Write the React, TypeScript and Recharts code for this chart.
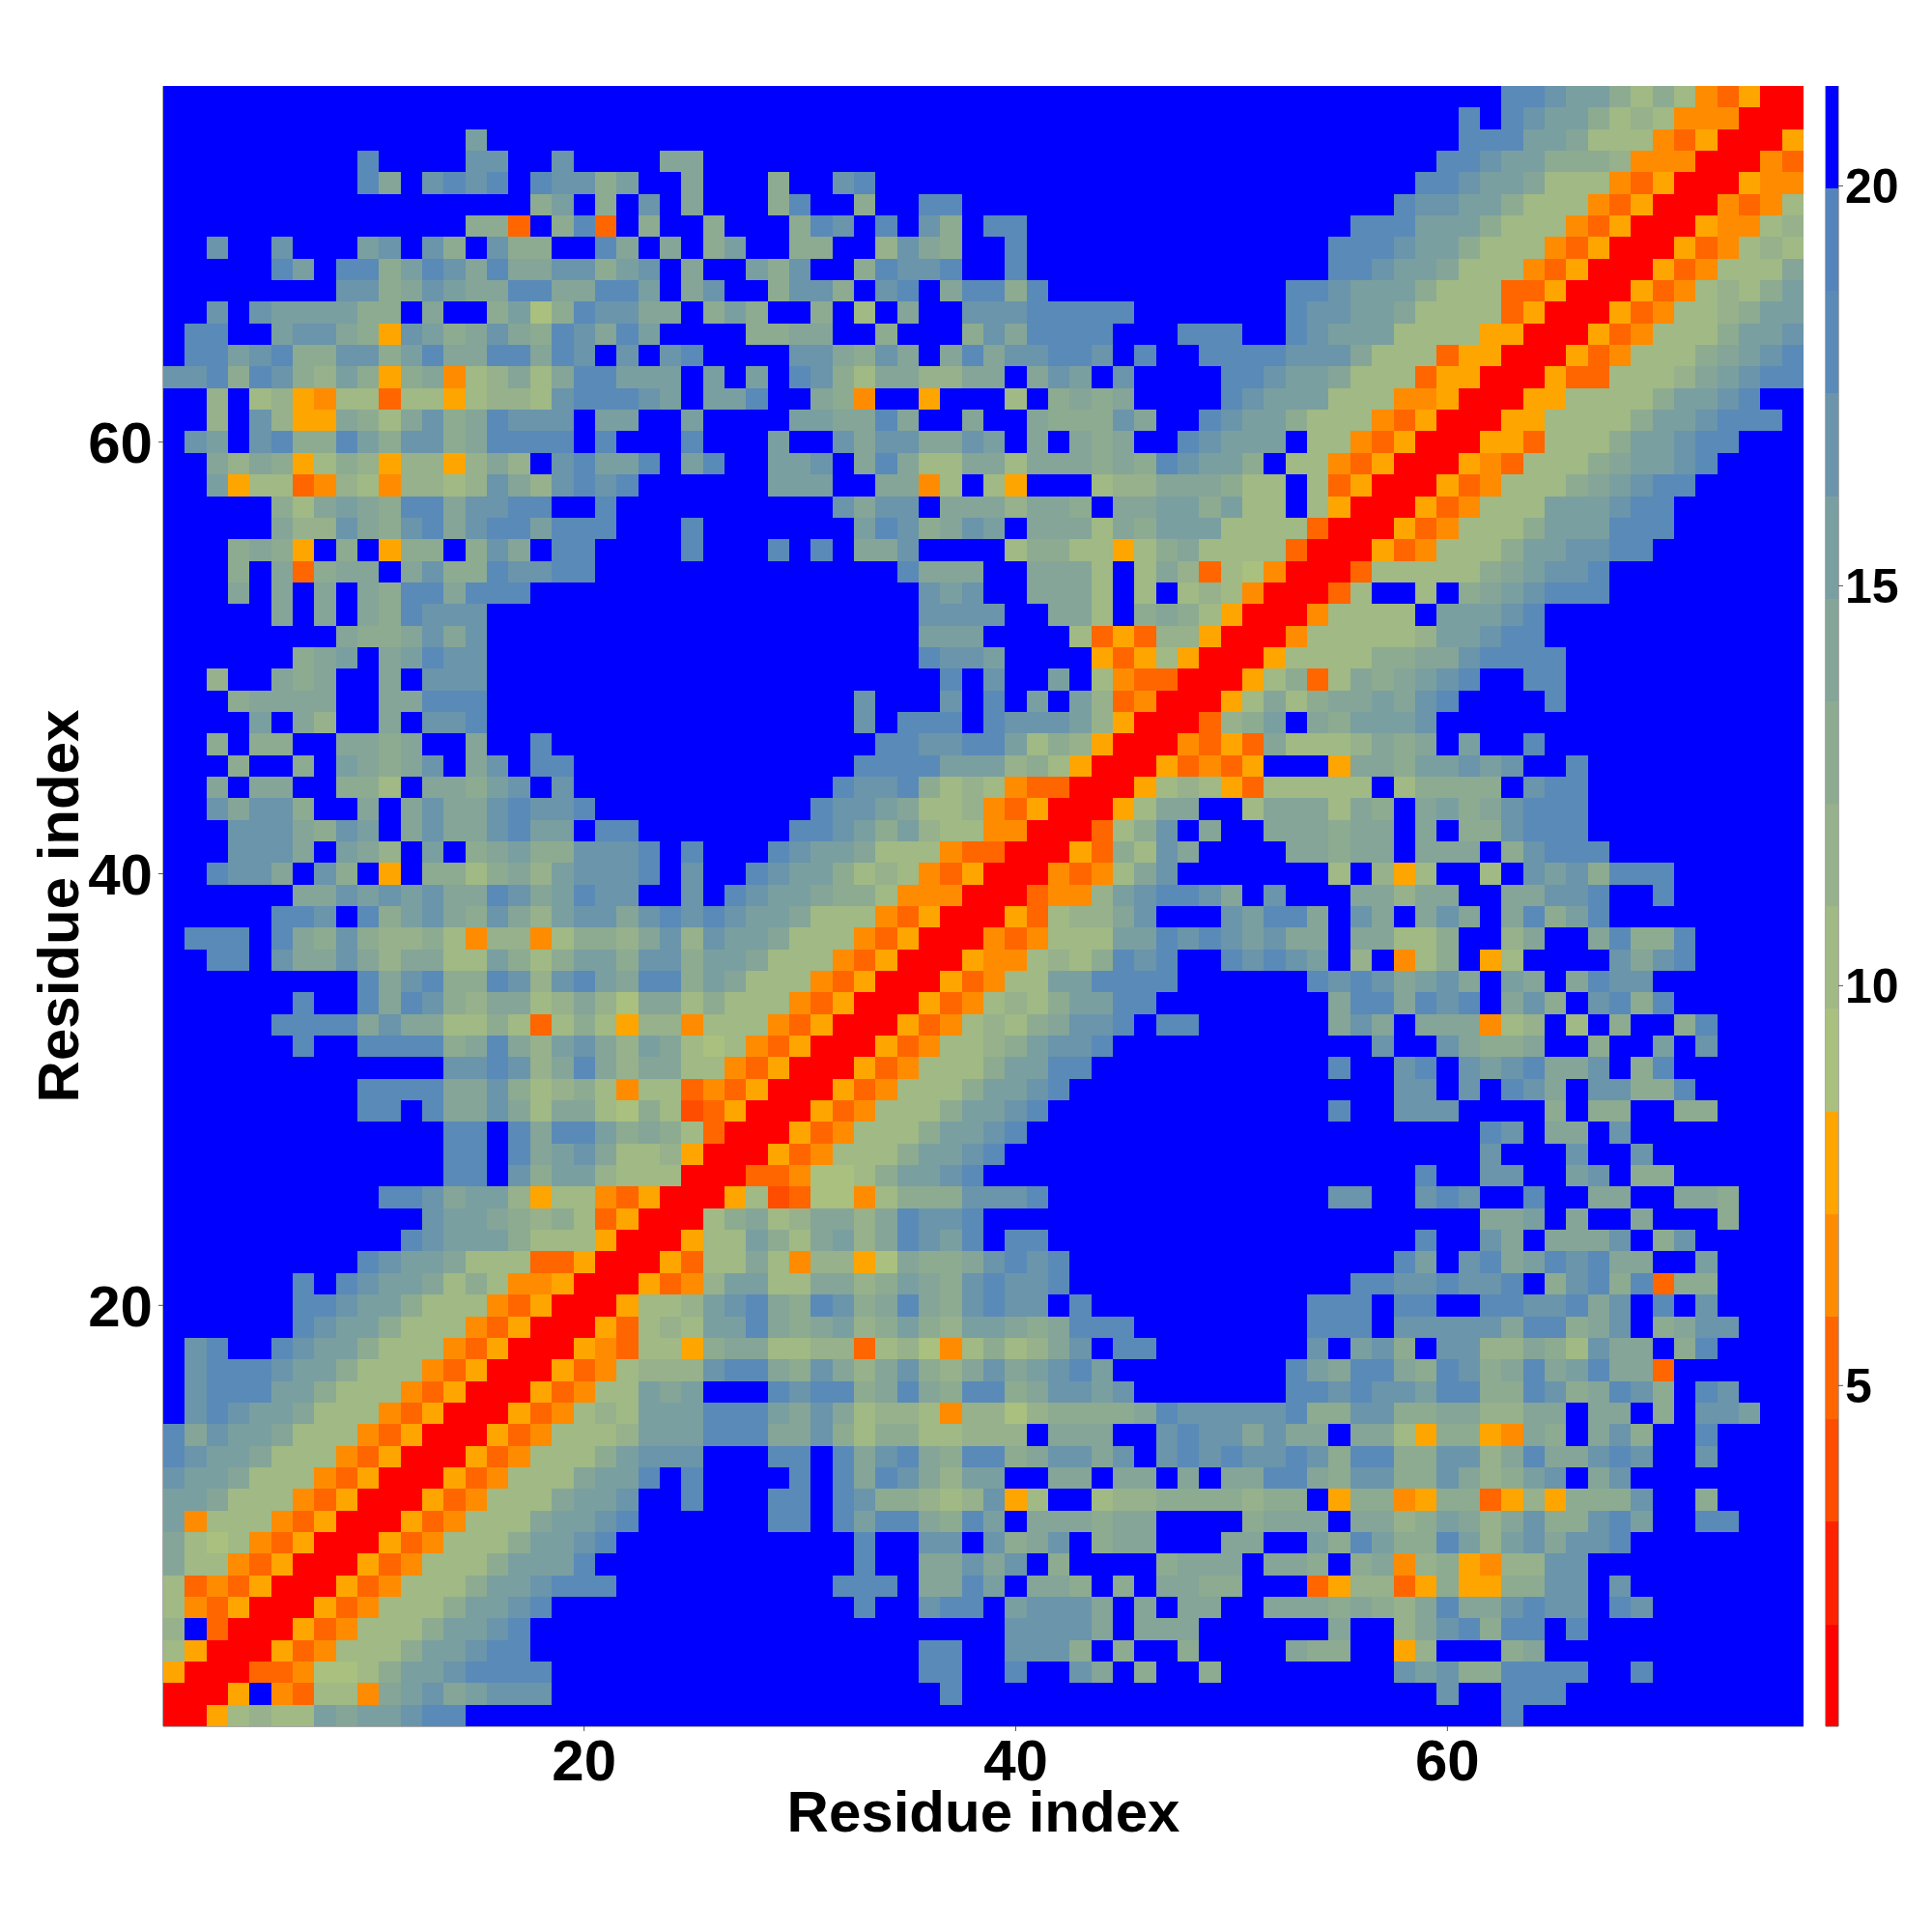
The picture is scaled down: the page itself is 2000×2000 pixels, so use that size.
import React from 'react';
import { ScatterChart, Scatter, XAxis, YAxis } from 'recharts';

const AXIS_TITLE = 'Residue index';
const residueTicks = [20, 40, 60];
const colorbarTicks = [5, 10, 15, 20];

// one colour per distance level, nearest to farthest
const levelCodes = '0123456789abcdef';
const levelColors = ['#ff0000','#ff2200','#ff4d00','#ff6600','#ff8c00','#ffa500','#a9c07f','#a0b985','#96b18b','#8dab91','#84a598','#7a9fa0','#6a95ab','#5a8ab8','#5484bc','#0000ff'];
const levelEdges = [0.74,2.02,3.30,4.59,5.87,7.15,8.43,9.71,11.0,12.28,13.56,14.84,16.12,17.41,18.69,19.97,21.25];

// rows run from residue 76 (top) to residue 1 (bottom)
const rowsLeft = [
"fffff fffff fffff fffff fffff","fffff fffff fffff fffff fffff",
"fffff fffff ffffb fffff fffff","fffff ffffd ffffc cffcf fffaa",
"fffff ffffd afcdc dfdcc 9bffa","fffff fffff fffff ff9bf 9fcfa",
"fffff fffff ffff9 93f9d 3f9ff","ffcff cfffb cfc9f c99ff dafaf",
"fffff dbfdd 9bdca daacc 9bcfa","fffff fffcc 9acba addaa ddbfa",
"ffcfc bbbb9 9faff 9b69d ccaaf","fddff bcca9 5cb9a ca9dc adbff",
"fddbc d99cc 9bdaa ddadc fcfcd","ccd9d c98b9 59a47 8a7ad dbbbf",
"ff8f7 85477 37757 887cd ddcbf","ff8fc 855a9 7ac9a dcccf bbffb",
"fcbfc d99db 9cc9a ddddf dfffd","ffa8a 95798 58858 a8fcd bbdfb",
"ffb57 73487 48878 ca8cd cdfff","fffff 97aba 9ddac cddff dffff",
"fffff a88ca 9cdac ddbdd dfffd","fff9a 95f9f 599f9 cafdd ffffd",
"fff9f a39aa fac99 dccdd fffff","fffaf afafa 9ddad ddfff fffff",
"fffff afafa 9dccc fffff fffff","fffff fffa9 9acac fffff fffff",
"fffff f9abf abdcc fffff fffff","ff8ff a9aff afccc fffff fffff",
"fff9a aaaff aaddd fffff fffff","ffffb fa8ff afccd fffff fffff",
"ff9f9 9ffaa 9affa ffdff fffff","fff9f f9fba 9acfa cfddf fffff",
"ffafa aff99 7faa9 bcfcf fffff","ffcac c9ffa facaa cdccd fffff",
"fffcc ca9cb facaa cdbbf ddfff","fffcc cafba 8fbf9 ab99c ccdfd",
"ffdcc afc9f 5f997 9a8bc ccdfc","fffff faacb cbcaa dcabd ccffc",
"fffff ddcfd 9bca9 ca8bc cacdc","fdddf da9c9 88974 88479 98ac8",
"ffddf caaca 8aa77 b979b b9cc9","fffff ffffd acd99 dc8cd badd9",
"fffff fdffd adc98 aa78a 86aa7","fffff dddda caa77 97379 75884",
"fffff fdffd ddd9a da8bc a8ba7","fffff fffff fffcc dc8ad a8aa7",
"fffff ffffd dddaa c9789 74773","fffff ffffd dfdaa ca7aa 76972",
"fffff fffff fffdd fdadd b9a97","fffff fffff fffdd fdabc a7785",
"fffff fffff fffdd fc9bb 87770","fffff fffff ddcab b8577 43500",
"fffff fffff ffcbb a9897 35000","fffff fffff fdcbb b9777 50005",
"fffff ffffd cbba7 77335 00053","fffff fdfdc bba79 74450 00534",
"fffff fddcb b9777 43500 05778","fffff fdcbb 97774 35000 53787",
"fcdff dcbb9 77743 50005 43775","fcddd cbb97 77435 00053 47888",
"fcddd bb977 74350 00534 77bab","fcdcb ba777 43500 05347 87bbb",
"dacbb a7774 35000 53477 78bbb","dcbba 77743 50005 34777 9bccc",
"cbba7 77435 00053 4777a bbdfd","bba77 74350 00534 777ab bcffd",
"b4777 43500 05347 77abb cdfff","a7674 35000 53477 79bbc dffff",
"a7743 50005 34777 9bbbd fffff","73435 00053 47779 bbcdd dffff",
"74350 00534 7779b bcdff fffff","8f300 05347 779bb cdfff fffff",
"75000 53477 79bbc ddfff fffff","50003 34667 9bbcd dddff fffff",
"0005f 43774 abcab cccff fffff","00578 77bab bcddf fffff fffff",
];

const rowsMiddle = [
"fffff fffff fffff fffff ffffff","fffff fffff fffff fffff ffffff",
"fffff fffff fffff fffff ffffff","fffff fffff fffff fffff ffffff",
"fff9f fcdff fffff fffff ffffff","fff9d ff9ff ddfff fffff ffffff",
"9fff9 dcfdf c9fdd fffff ffffff","9bff9 9ff8c a9ffd fffff ffffff",
"ffb9c ff9dc cdffd fffff ffffff","cff9c c9fcd fadd9 dffff ffffff",
"9b9ff 9f7fa ffccc ddddd ffffff","ff99a aff9f ff9ca ddddf ffdddf",
"ffffc ca9ca fadac cddcf dffddd","bfbfd c97aa 88aaf acbfc ffffdd",
"bbdff a94ff 5fff7 f9a9a ffffdc","ffffb baada ffaff a999c affdcb",
"fffbf fcacc aacbf afa9a ffdcbb","dffbb cfada 77aa7 aaa9a 9dcbb9",
"fffbb bffaa 47f75 fff78 8aaa97","fffff fcacc faaa8 aa9fa abb9b7",
"fffff ffbdc 9acbf aaa7a 9bbb77","fffdf dfaac ffff7 99775 79a777",
"fffff ffffd aaaff aaa7f 7a8376","fffff fffff cbcff aaa7f 7f7874",
"fffff fffff ccccf faa7f 9a9750","fffff fffff bbbff ff735 388500",
"fffff fffff dccbf fff53 575000","fffff fffff fdfcf fbf74 330005",
"fffff ffcff fcfdf bfb83 400057","fffff ffcfd ddfdc ccb85 000389",
"fffff fffdd ccddb 79850 004353","fffff ffddd dbbb8 97500 053435",
"fffff fdccd 97874 33000 578753","fffff dccba 77843 50005 7aaff7",
"ffffd dcb9b 87744 00037 9cfaff","fffdc bba77 74330 00539 7cafff",
"ffdcb b9787 43500 04347 acffff","fdcbb a9974 44000 3448b cddcaf",
"dcbba 77743 50005 3788a cfffcb","cbba7 77435 00043 4777b bdcdcb",
"bba77 74350 00544 7879d cdffdc","ba777 43500 05347 7bbdd ddffff",
"97774 35000 53478 79bbd dfffff","77743 50005 34787 9accd fddfff",
"67435 00053 47789 bccdf ffffff","74350 00534 7779b bddff ffffff",
"43500 05347 779bb cdfff ffffff","35000 53477 79bbc dffff ffffff",
"30005 34777 9bbcd fffff ffffff","00053 47779 bbcdf fffff ffffff",
"00334 6679b bcdff fffff ffffff","05723 66479 99ccc dffff ffffff",
"79a78 aa8ad ccdff fffff ffffff","77b97 ab8ad cbdfd dffff ffffff",
"77a74 8856a 99acd cdfff ffffff","8bb77 aa89b a9cdc cdfff ffffff",
"bcda9 dc9ad a9cdc cfdff ffffff","bbda9 ab89b 98bba 9addd ffffff",
"9aa77 88378 64797 8acfd dfffff","cdda9 ca8ac 98aca bcdbf ffffff",
"fffdc dd9ad a9dd9 accbc ffffff","dddba ca788 74886 89999 adcccc",
"dddaa c9799 77888 faaaf fcdcca","fffdd fdacd a9dd9 accac fcdcdc",
"ffffd fdadc a8bbf faafa afafaa","fffdd fdc99 878c5 7ff78 899998",
"fffdd fdbdd a9dbf aaa9a affff9","fffff ffdff ccfc9 acf9a afffaa",
"fffff ffdff aacac f9fff f9aaaf","fffff fdddf aadbf aa9f9 faa99f",
"fffff ffdff cddfb cccaf afaaff","fffff fffff ffffc cccaf aaafff",
"fffff fffff ddffc cc9f9 ff9fff","fffff fffff ddffd ffcaf 9ff9ff",
"fffff fffff fdfff fffff ffffff","fffff fffff fffff fffff ffffff",
];

const rowsRight = [
"fffff fffff fddcb b9797 43500","fffff ffffd fdcbb 97874 44000",
"fffff ffffd ddbba 77743 50005","fffff fffdd cbb99 98444 00043",
"fffff ffddc bba77 74350 00544","fffff fdccb b9777 43500 04347",
"ffffd ddbbb 97774 35000 54478","fffdd dcbb9 77743 50005 34787",
"fffdd cbba7 77435 00053 4777a","fddcb bb977 73350 00534 7879b",
"fdccb ba777 73500 05347 789bb","fdcbb b7777 55000 53477 79bbc",
"dccca 77735 50005 34777 9abcd","cbba7 77355 00053 37778 abcdd",
"bbb77 74450 00557 7779b bcdff","b9777 43500 05577 779bb cdddf",
"bf774 35000 55377 79bbc ddfff","f7743 50005 43777 9abbc dffff",
"7f735 00053 47779 abcdd fffff","7f750 00534 777bb bcddf fffff",
"77300 05347 779bb bdddf fffff","73000 53477 79bbc cddff fffff",
"40003 77777 9abcc dffff fffff","00037 ff7f9 abcdd dffff fffff",
"00477 77fbb bcdff fffff fffff","04777 778bb cddff fffff fffff",
"57777 99aac ddddf fffff fffff","7937a 9abcd ffddf fffff fffff",
"a79aa bacdf fffdf fffff fffff","bfa9b bbcff fffff fffff fffff",
"a7778 a9afb ffdff fffff fffff","fff5a a9bbc bcffd fffff fffff",
"77777 f7999 9fcdd fffff fffff","aaa7a 9fab9 acddd fffff fffff",
"aaa9a afaf9 9cddd fffff fffff","faa9a afaaa f9cdd dffff fffff",
"fff7f 857ff 7fcbc 9dddf fffff","cfffa a8aaf faacc dffdf fffff",
"ddafc afaca fad9b dffff fffff","caafa a779f f8aff ad99d fffff",
"dcbf8 f479f 57fff fcacd fffff","ffdcd cabca fbafa dccff fffff",
"fffad dadcd fac9f cd9df fffff","fffac afaaa 478f7 f9ff9 dffff",
"fffff cffca 99aff 9ffbf cffff","fffdf fcdfc bcdaa cf9df fffff",
"fffff fccfc fdcaf cc99d fffff","fffdf fcccf fff9f 99ff9 9ffff",
"fffff fffff dcfaa fcfff fffff","fffff fffff cfffc ffcff fffff",
"fffff ffdff ccffb cf99f fffff","fffcc ffcdc ffdff aaffa a9fff",
"fffff fffff aabfa ffaff f9fff","fffff ffdff cafaa acf9c fffff",
"fffff fdbfc dabdc daaff bffff","ffffd dccdc cdf9c d9d39 9ffff",
"ffddd fddff ddccd acfdf cffff","ffddd fcccc cadd9 acf9a ccfff",
"ffcfb c9fcc 88a97 caaf9 dffff","fdbad da9dc 9adab daa3f fffff",
"fddcd ccbdd 99dc9 adc9f dcfff","cd99c c99aa 88aaf aaf9f ccbff",
"caafa a7599 54a9f ac9ff dffff","cdc9d d99cc 8adaa cdcff cffff",
"dda9c c99ca 89bcf acfff fffff","99f59 94599 35859 99cff 9ffff",
"aaafa a89ba 8ac99 cdbff ddfff","ffb9d b99db 8bcac cdfff fffff",
"aa9f9 a4895 488cc fffff fffff","ff358 83595 599cc fcfff fffff",
"aaa9a 98ada acdcc fdcff fffff","fffaf f8acd 9ddfd fffff fffff",
"fa99f f58ff f9aff fffff fffff","fffff fcbc9 9dddd ffdff fffff",
"fffff fffcf fdddf fffff fffff","fffff fffff fdfff fffff fffff",
];

const RESIDUES = rowsLeft.length;
const cells: { x: number; y: number; level: number }[] = [];
rowsLeft.forEach((left, r) => {
  const row = (left + rowsMiddle[r] + rowsRight[r]).replace(/ /g, '');
  for (let c = 0; c < row.length; c++) {
    cells.push({ x: c + 1, y: RESIDUES - r, level: levelCodes.indexOf(row[c]) });
  }
});

const colorbarCells = levelColors.map((_, i) => ({
  x: 0.5,
  y: (levelEdges[i] + levelEdges[i + 1]) / 2,
  level: i,
}));

const PLOT_LEFT = 169;
const PLOT_TOP = 89;
const PLOT_SIZE = 1698;
const CELL = PLOT_SIZE / 76;
const BAR_CELL_H = PLOT_SIZE / 16;
const BAR_W = 13;
const FONT = '"Liberation Sans", Arial, sans-serif';
const EDGE = '#555555';

const tickStyle = { fontSize: 60, fontWeight: 700, fill: '#000', fontFamily: FONT };
const titleStyle = { fontSize: 60, fontWeight: 700, fill: '#000', fontFamily: FONT, textAnchor: 'middle' as const };

const HeatCell = (p: any) => (
  <rect
    x={p.cx - CELL / 2}
    y={p.cy - CELL / 2}
    width={CELL + 0.4}
    height={CELL + 0.4}
    fill={levelColors[p.payload.level]}
    shapeRendering="crispEdges"
  />
);

const BarCell = (p: any) => (
  <rect
    x={p.cx - BAR_W / 2}
    y={p.cy - BAR_CELL_H / 2}
    width={BAR_W}
    height={BAR_CELL_H + 0.4}
    fill={levelColors[p.payload.level]}
    shapeRendering="crispEdges"
  />
);

export default function App() {
  return (
    <div style={{ position: 'absolute', left: 0, top: 0, width: 2000, height: 2000, background: '#fff' }}>
      <div style={{ position: 'absolute', left: 0, top: 0 }}>
        <ScatterChart width={2000} height={2000} margin={{ top: PLOT_TOP, right: 2000 - PLOT_LEFT - PLOT_SIZE, bottom: 0, left: 0 }}>
          <XAxis
            type="number" dataKey="x" domain={[0.5, 76.5]} ticks={residueTicks} height={2000 - PLOT_TOP - PLOT_SIZE}
            tick={tickStyle} tickSize={5} tickMargin={8} stroke={EDGE}
            label={{ value: AXIS_TITLE, position: 'insideBottom', offset: 104, style: titleStyle }}
          />
          <XAxis xAxisId="top" orientation="top" type="number" dataKey="x" domain={[0.5, 76.5]} ticks={residueTicks} height={0} tick={false} tickSize={5} stroke={EDGE} />
          <YAxis
            type="number" dataKey="y" domain={[0.5, 76.5]} ticks={residueTicks} width={PLOT_LEFT}
            tick={tickStyle} tickSize={5} tickMargin={6} stroke={EDGE}
            label={{ value: AXIS_TITLE, angle: -90, position: 'insideLeft', offset: 60, style: titleStyle }}
          />
          <YAxis yAxisId="right" orientation="right" type="number" dataKey="y" domain={[0.5, 76.5]} ticks={residueTicks} width={0} tick={false} tickSize={5} stroke={EDGE} />
          <Scatter data={cells} shape={HeatCell} isAnimationActive={false} />
        </ScatterChart>
      </div>
      <div style={{ position: 'absolute', left: 1800, top: 0 }}>
        <ScatterChart width={200} height={2000} margin={{ top: PLOT_TOP, right: 0, bottom: 0, left: 0 }}>
          <XAxis type="number" dataKey="x" domain={[0, 1]} ticks={[]} height={2000 - PLOT_TOP - PLOT_SIZE} tick={false} tickLine={false} stroke={EDGE} />
          <XAxis xAxisId="top" orientation="top" type="number" dataKey="x" domain={[0, 1]} ticks={[]} height={0} tick={false} tickLine={false} stroke={EDGE} />
          <YAxis yAxisId="left" type="number" dataKey="y" domain={[0.74, 21.25]} ticks={[]} width={90} tick={false} tickLine={false} stroke={EDGE} />
          <YAxis
            orientation="right" type="number" dataKey="y" domain={[0.74, 21.25]} ticks={colorbarTicks} width={97}
            tick={{ ...tickStyle, fontSize: 50 }} tickSize={5} tickMargin={2} stroke={EDGE}
          />
          <Scatter data={colorbarCells} shape={BarCell} isAnimationActive={false} />
        </ScatterChart>
      </div>
    </div>
  );
}
